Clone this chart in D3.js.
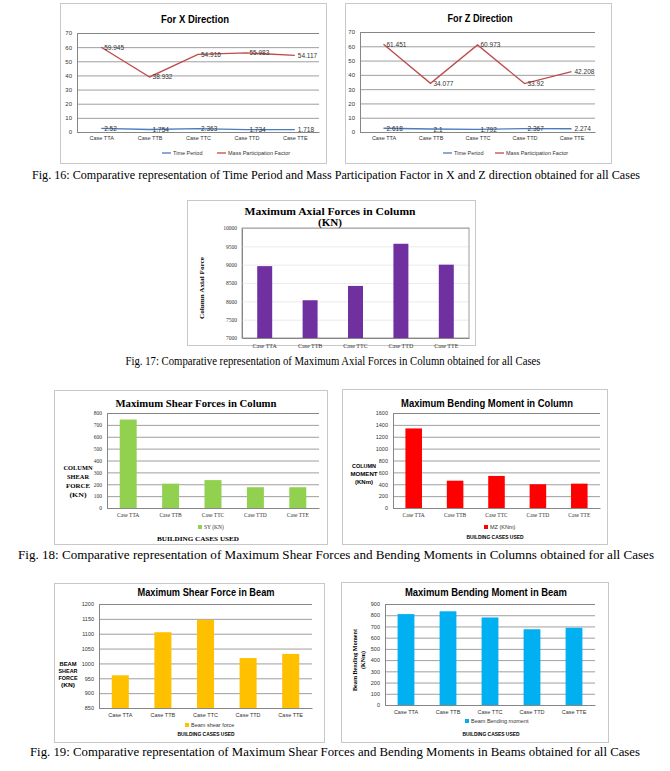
<!DOCTYPE html>
<html><head><meta charset="utf-8">
<script src="https://cdn.jsdelivr.net/npm/d3@7"></script>
<style>body{margin:0;background:#fff}svg{display:block}</style>
</head><body>
<script>
const cases = ["Case TTA","Case TTB","Case TTC","Case TTD","Case TTE"];
const timePeriodX = [2.52, 1.754, 2.363, 1.734, 1.718];
const massFactorX = [59.945, 38.932, 54.916, 55.983, 54.117];
const timePeriodZ = [2.618, 2.1, 1.792, 2.367, 2.274];
const massFactorZ = [61.451, 34.077, 60.973, 33.92, 42.208];
const axialForce = [8960, 8030, 8420, 9570, 9000];
const colShear = [745, 205, 235, 175, 175];
const colMoment = [1340, 460, 540, 400, 410];
const beamShear = [960, 1105, 1147, 1018, 1032];
const beamMoment = [810, 835, 780, 675, 688];
const lineTicks = [0,10,20,30,40,50,60,70];
const axialTicks = [7000,7500,8000,8500,9000,9500,10000];
const colShearTicks = [0,100,200,300,400,500,600,700,800];
const colMomentTicks = [0,200,400,600,800,1000,1200,1400,1600];
const beamShearTicks = [850,900,950,1000,1050,1100,1150,1200];
const beamMomentTicks = [0,100,200,300,400,500,600,700,800,900];

const SANS = "'Liberation Sans', Arial, sans-serif";
const SERIF = "'Liberation Serif', 'Times New Roman', serif";
const svg = d3.select("body").append("svg").attr("width",670).attr("height",771);
svg.append("rect").attr("width",670).attr("height",771).attr("fill","#fff");

function fitText(g, x, y, str, size, len, font, weight, anchor){
  const t = g.append("text").attr("x",x).attr("y",y).text(str)
    .attr("font-family",font).attr("font-size",size).attr("font-weight",weight||"normal")
    .attr("text-anchor",anchor||"middle").attr("fill","#000");
  if(len) t.attr("textLength",len).attr("lengthAdjust","spacingAndGlyphs");
  return t;
}
function box(b){
  svg.append("rect").attr("x",b[0]+0.5).attr("y",b[1]+0.5).attr("width",b[2]-b[0]).attr("height",b[3]-b[1])
    .attr("fill","#fff").attr("stroke","#c8c8c8").attr("stroke-width",1);
}

function lineChart(c){
  box(c.box);
  const g = svg.append("g");
  const x = d3.scalePoint().domain(cases).range([c.l,c.r]).padding(0.5);
  const y = d3.scaleLinear().domain([0,70]).range([c.b,c.t]);
  g.append("g").attr("transform",`translate(${c.l},0)`)
    .call(d3.axisLeft(y).tickValues(lineTicks).tickSize(-(c.r-c.l)).tickFormat(d3.format("d")))
    .call(a=>{a.select(".domain").attr("stroke","#868686");
      a.selectAll(".tick line").attr("stroke","#868686").attr("stroke-width",0.8);
      a.selectAll(".tick text").attr("font-family",SANS).attr("font-size",6).attr("fill","#333").attr("x",-5);});
  g.append("g").attr("transform",`translate(0,${c.b})`)
    .call(d3.axisBottom(x).tickSize(0))
    .call(a=>{a.select(".domain").attr("stroke","#868686");
      a.selectAll(".tick text").attr("font-family",SANS).attr("font-size",5.5).attr("fill","#333").attr("dy","0.9em");});
  const ln = d3.line().x((d,i)=>x(cases[i])).y(d=>y(d));
  [[c.tp,"#4a7ebb"],[c.mp,"#be4b48"]].forEach(([data,col])=>{
    g.append("path").datum(data).attr("d",ln).attr("fill","none").attr("stroke",col).attr("stroke-width",1.3);
    g.selectAll(null).data(data).join("text")
      .attr("x",(d,i)=>x(cases[i])+3).attr("y",d=>y(d)+2.5)
      .attr("font-family",SANS).attr("font-size",6.5).attr("fill","#333").text(d=>d);
  });
  fitText(g,(c.box[0]+c.box[2])/2+2,c.ty,c.title,10,c.tl,SANS,"bold");
  const ly = 153;
  g.append("line").attr("x1",c.lg1).attr("x2",c.lg1+9).attr("y1",ly).attr("y2",ly).attr("stroke","#4a7ebb").attr("stroke-width",1.3);
  g.append("text").attr("x",c.lg1+11).attr("y",ly+2).attr("font-family",SANS).attr("font-size",5.5).attr("fill","#333").text("Time Period");
  g.append("line").attr("x1",c.lg2).attr("x2",c.lg2+9).attr("y1",ly).attr("y2",ly).attr("stroke","#be4b48").attr("stroke-width",1.3);
  g.append("text").attr("x",c.lg2+11).attr("y",ly+2).attr("font-family",SANS).attr("font-size",5.5).attr("fill","#333").text("Mass Participation Factor");
}

lineChart({box:[60,3,326,163],l:77,r:319,t:33,b:132,tp:timePeriodX,mp:massFactorX,title:"For X Direction",ty:23,tl:68,lg1:162,lg2:217});
lineChart({box:[345,3,611,163],l:360,r:595,t:32,b:132,tp:timePeriodZ,mp:massFactorZ,title:"For Z Direction",ty:22,tl:65,lg1:443,lg2:495});

function barChart(c){
  box(c.box);
  const g = svg.append("g");
  const x = d3.scaleBand().domain(cases).range([c.l,c.r]).paddingInner(c.pad).paddingOuter(c.pad/2);
  const y = d3.scaleLinear().domain([c.ticks[0],c.ticks[c.ticks.length-1]]).range([c.b,c.t]);
  g.append("g").attr("transform",`translate(${c.l},0)`)
    .call(d3.axisLeft(y).tickValues(c.ticks).tickSize(-(c.r-c.l)).tickFormat(d3.format("d")))
    .call(a=>{a.select(".domain").attr("stroke","#868686");
      a.selectAll(".tick line").attr("stroke",c.grid||"#868686").attr("stroke-width",0.8);
      a.selectAll(".tick text").attr("font-family",c.tickFont||SANS).attr("font-size",5.5).attr("fill","#333").attr("x",-5);});
  if(c.frame) g.append("rect").attr("x",c.l).attr("y",c.t).attr("width",c.r-c.l).attr("height",c.b-c.t)
      .attr("fill","none").attr("stroke","#868686").attr("stroke-width",0.8);
  g.selectAll(null).data(c.data).join("rect")
    .attr("x",(d,i)=>x(cases[i])).attr("width",x.bandwidth())
    .attr("y",d=>y(d)).attr("height",d=>c.b-y(d)).attr("fill",c.color);
  g.append("g").attr("transform",`translate(0,${c.b})`)
    .call(d3.axisBottom(x).tickSize(0))
    .call(a=>{a.select(".domain").attr("stroke","#868686");
      a.selectAll(".tick text").attr("font-family",c.catFont||SANS).attr("font-size",c.catSize||5.5).attr("fill","#333").attr("dy",c.catDy||"1em");});
  c.titles.forEach(t=>fitText(g,t[0],t[1],t[2],t[3],t[4],c.titleFont,"bold"));
  if(c.legend){
    const L=c.legend;
    g.append("rect").attr("x",L[0]).attr("y",L[1]-2).attr("width",4).attr("height",4).attr("fill",c.color);
    g.append("text").attr("x",L[0]+6).attr("y",L[1]+2).attr("font-family",L[3]||SANS).attr("font-size",5.5).attr("fill","#333").text(L[2]);
  }
  if(c.xlabel) fitText(g,c.xlabel[0],c.xlabel[1],c.xlabel[2],c.xlabel[3],c.xlabel[4],c.xlabel[5],"bold");
  if(c.ylabel) c.ylabel(g);
}

// Fig 17
barChart({box:[187,200,475,345],l:242,r:469,t:228,b:338,ticks:axialTicks,data:axialForce,color:"#7030a0",pad:0.67,
  frame:true,grid:"#e6e6e6",tickFont:SERIF,catFont:SERIF,catSize:6,catDy:"1.1em",titleFont:SERIF,
  titles:[[330,215,"Maximum  Axial Forces in Column",10,171],[330,226,"(KN)",10,24]],
  ylabel:g=>{fitText(g,0,0,"Column Axial Force",7,62,SERIF,"bold").attr("transform","translate(204,288) rotate(-90)");}});

// Fig 18 left
barChart({box:[54,390,327,544],l:107,r:319,t:413,b:508,ticks:colShearTicks,data:colShear,color:"#92d050",pad:0.6,
  tickFont:SERIF,catFont:SERIF,catSize:5.5,titleFont:SERIF,
  titles:[[196,407,"Maximum  Shear Forces in Column",10.5,161]],
  legend:[198,527,"SY (KN)",SERIF],xlabel:[198,541,"BUILDING  CASES USED",7,82,SERIF],
  ylabel:g=>{["COLUMN","SHEAR","FORCE","(KN)"].forEach((s,i)=>fitText(g,78,470+i*9,s,7,[29,22,24,17][i],SERIF,"bold"));}});

// Fig 18 right
barChart({box:[342,389,607,544],l:393,r:600,t:413,b:508,ticks:colMomentTicks,data:colMoment,color:"#ff0000",pad:0.6,
  catFont:SERIF,catSize:5.5,titleFont:SANS,
  titles:[[487,407,"Maximum Bending Moment in Column",10,172]],
  legend:[484,527,"MZ (KNm)"],xlabel:[495,539,"BUILDING CASES USED",5.5,57,SANS],
  ylabel:g=>{["COLUMN","MOMENT","(KNm)"].forEach((s,i)=>fitText(g,364,468+i*8,s,5.5,[24,27,18][i],SANS,"bold"));}});

// Fig 19 left
barChart({box:[54,583,324,742],l:99,r:312,t:604,b:708,ticks:beamShearTicks,data:beamShear,color:"#ffc000",pad:0.6,
  titleFont:SANS,
  titles:[[206,596,"Maximum Shear Force in Beam",10,137]],
  legend:[185,725,"Beam shear force"],xlabel:[206,736,"BUILDING CASES USED",5.5,57,SANS],
  ylabel:g=>{["BEAM","SHEAR","FORCE","(KN)"].forEach((s,i)=>fitText(g,68,666+i*7,s,5.5,[17,19,19,14][i],SANS,"bold"));}});

// Fig 19 right
barChart({box:[341,582,608,742],l:385,r:595,t:604,b:705,ticks:beamMomentTicks,data:beamMoment,color:"#00b0f0",pad:0.6,
  titleFont:SANS,
  titles:[[486,596,"Maximum Bending Moment in Beam",10,162]],
  legend:[465,721,"Beam Bending moment"],xlabel:[491,736,"BUILDING CASES USED",5.5,57,SANS],
  ylabel:g=>{fitText(g,0,0,"Beam Bending Moment",6.5,62,SERIF,"bold").attr("transform","translate(357,660) rotate(-90)");
             fitText(g,0,0,"(KNm)",6.5,18,SERIF,"bold").attr("transform","translate(365,660) rotate(-90)");}});

// captions
const caps = [
 [336,179,"Fig. 16: Comparative representation of Time Period and Mass Participation Factor in X and Z direction obtained for all Cases",608],
 [333,365,"Fig. 17: Comparative representation of Maximum Axial Forces in Column obtained for all Cases",415],
 [336,559,"Fig. 18: Comparative representation of Maximum Shear Forces and Bending Moments in Columns obtained for all Cases",636],
 [335,756,"Fig. 19: Comparative representation of Maximum Shear Forces and Bending Moments in Beams obtained for all Cases",610]];
caps.forEach(c=>fitText(svg,c[0],c[1],c[2],12,c[3],SERIF,"normal"));
</script>
</body></html>
